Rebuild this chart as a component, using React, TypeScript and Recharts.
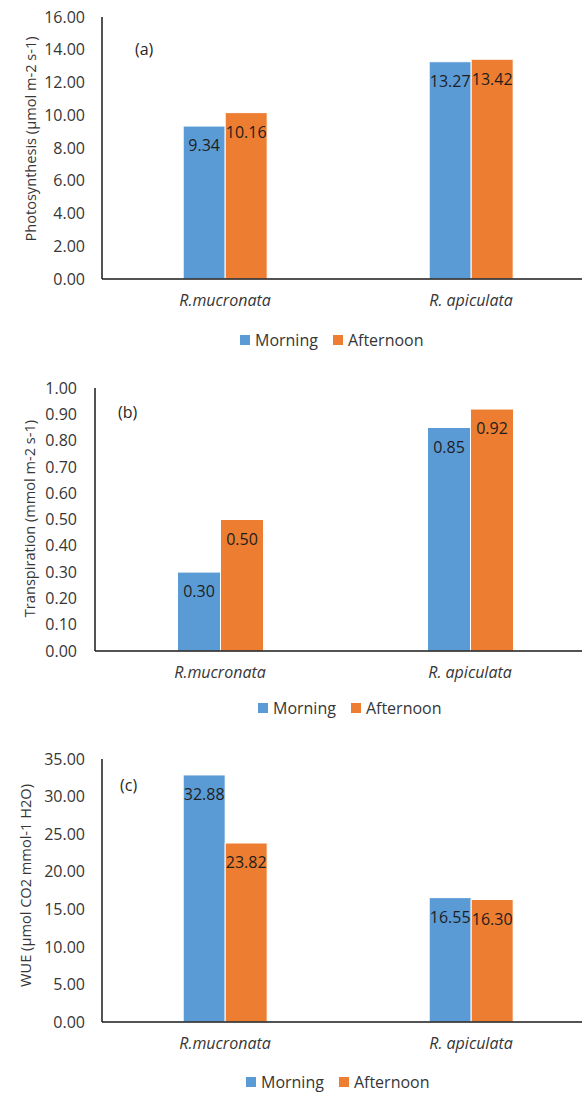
import React from 'react';
import { BarChart, Bar, XAxis, YAxis, LabelList, Legend } from 'recharts';

const categories = ['R.mucronata', 'R. apiculata'];
const seriesNames = ['Morning', 'Afternoon'];
const seriesColors = ['#5B9BD5', '#ED7D31'];

const photoMorning = [9.34, 13.27];
const photoAfternoon = [10.16, 13.42];
const transMorning = [0.3, 0.85];
const transAfternoon = [0.5, 0.92];
const wueMorning = [32.88, 16.55];
const wueAfternoon = [23.82, 16.3];

const photoTicks = [0, 2, 4, 6, 8, 10, 12, 14, 16];
const transTicks = [0, 0.1, 0.2, 0.3, 0.4, 0.5, 0.6, 0.7, 0.8, 0.9, 1.0];
const wueTicks = [0, 5, 10, 15, 20, 25, 30, 35];

const FONT = "'Open Sans', sans-serif";
const TEXT = '#363636';
const FS = 16;

const build = (m: number[], a: number[]) =>
  categories.map((name, i) => ({ name, Morning: m[i], Afternoon: a[i] }));

type PanelProps = {
  top: number;
  height: number;
  margin: { top: number; right: number; bottom: number; left: number };
  yWidth: number;
  xHeight: number;
  data: any[];
  ticks: number[];
  title: string;
  titleX: number;
  titleDy: number;
  panel: string;
  panelDx: number;
  panelDy: number;
  legendX: number;
  tickGap: number;
};

function Panel(p: PanelProps) {
  const yLabel = (props: any) => {
    const vb = props.viewBox || {};
    const cx = vb.x + p.titleX;
    const cy = vb.y + vb.height / 2 + p.titleDy;
    const px = vb.x + vb.width + p.panelDx;
    const py = vb.y + p.panelDy;
    return (
      <g>
        <text
          x={cx}
          y={cy}
          transform={`rotate(-90 ${cx} ${cy})`}
          textAnchor="middle"
          dominantBaseline="central"
          fontFamily={FONT}
          fontSize={14.6}
          fill={TEXT}
        >
          {p.title}
        </text>
        <text
          x={px}
          y={py}
          textAnchor="start"
          dominantBaseline="central"
          fontFamily={FONT}
          fontSize={16}
          fill="#262626"
        >
          {p.panel}
        </text>
      </g>
    );
  };

  const legendContent = (props: any) => {
    const payload = [...(props.payload || [])].sort(
      (a: any, b: any) => seriesNames.indexOf(a.value) - seriesNames.indexOf(b.value)
    );
    return (
      <div
        style={{
          display: 'flex',
          alignItems: 'center',
          height: 20,
          paddingLeft: p.legendX,
          fontFamily: FONT,
          fontSize: FS,
          color: TEXT,
        }}
      >
        {payload.map((e: any, i: number) => (
          <div key={i} style={{ display: 'flex', alignItems: 'center', marginRight: 15 }}>
            <span style={{ display: 'inline-block', width: 10, height: 10, background: e.color, marginRight: 5 }} />
            <span>{e.value}</span>
          </div>
        ))}
      </div>
    );
  };

  const fmt = (v: any) => Number(v).toFixed(2);
  const maxTick = p.ticks[p.ticks.length - 1];

  return (
    <div style={{ position: 'absolute', left: 0, top: p.top }}>
      <BarChart
        width={600}
        height={p.height}
        data={p.data}
        margin={p.margin}
        barCategoryGap="33%"
        barGap={0}
      >
        <XAxis
          dataKey="name"
          height={p.xHeight}
          tickLine={false}
          tickSize={0}
          tickMargin={16}
          axisLine={{ stroke: '#1a1a1a', strokeWidth: 1.5 }}
          tick={{ fontFamily: FONT, fontSize: FS, fill: TEXT, fontStyle: 'italic' }}
        />
        <YAxis
          width={p.yWidth}
          domain={[0, maxTick]}
          ticks={p.ticks}
          interval={0}
          tickFormatter={fmt}
          tickLine={false}
          tickSize={0}
          tickMargin={p.tickGap}
          axisLine={{ stroke: '#1a1a1a', strokeWidth: 1.5 }}
          tick={{ fontFamily: FONT, fontSize: FS, fill: TEXT }}
          label={yLabel}
        />
        <Legend verticalAlign="bottom" height={20} content={legendContent} />
        {seriesNames.map((s, i) => (
          <Bar
            key={s}
            dataKey={s}
            name={s}
            fill={seriesColors[i]}
            stroke="#ffffff"
            strokeWidth={1}
            isAnimationActive={false}
          >
            <LabelList
              dataKey={s}
              position="insideTop"
              offset={14}
              formatter={fmt}
              fontFamily={FONT}
              fontSize={FS}
              fill="#1e1e1e"
            />
          </Bar>
        ))}
      </BarChart>
    </div>
  );
}

export default function App() {
  return (
    <div
      style={{
        position: 'absolute',
        left: 0,
        top: 0,
        width: 582,
        height: 1095,
        overflow: 'hidden',
        background: '#ffffff',
      }}
    >
      <Panel
        top={0}
        height={360}
        margin={{ top: 17, right: 6, bottom: 10, left: 0 }}
        yWidth={102}
        xHeight={51}
        data={build(photoMorning, photoAfternoon)}
        ticks={photoTicks}
        title="Photosynthesis (µmol m-2 s-1)"
        titleX={30}
        titleDy={-9}
        panel="(a)"
        panelDx={33}
        panelDy={32}
        legendX={240}
        tickGap={17}
      />
      <Panel
        top={360}
        height={370}
        margin={{ top: 28, right: 5, bottom: 12, left: 0 }}
        yWidth={95}
        xHeight={47}
        data={build(transMorning, transAfternoon)}
        ticks={transTicks}
        title="Transpiration (mmol m-2 s-1)"
        titleX={29}
        titleDy={-1}
        panel="(b)"
        panelDx={23}
        panelDy={24}
        legendX={258}
        tickGap={18}
      />
      <Panel
        top={730}
        height={365}
        margin={{ top: 29, right: 6, bottom: 3, left: 0 }}
        yWidth={102}
        xHeight={50}
        data={build(wueMorning, wueAfternoon)}
        ticks={wueTicks}
        title="WUE (µmol CO2 mmol-1 H2O)"
        titleX={25}
        titleDy={-5}
        panel="(c)"
        panelDx={18}
        panelDy={26}
        legendX={246}
        tickGap={17}
      />
    </div>
  );
}
